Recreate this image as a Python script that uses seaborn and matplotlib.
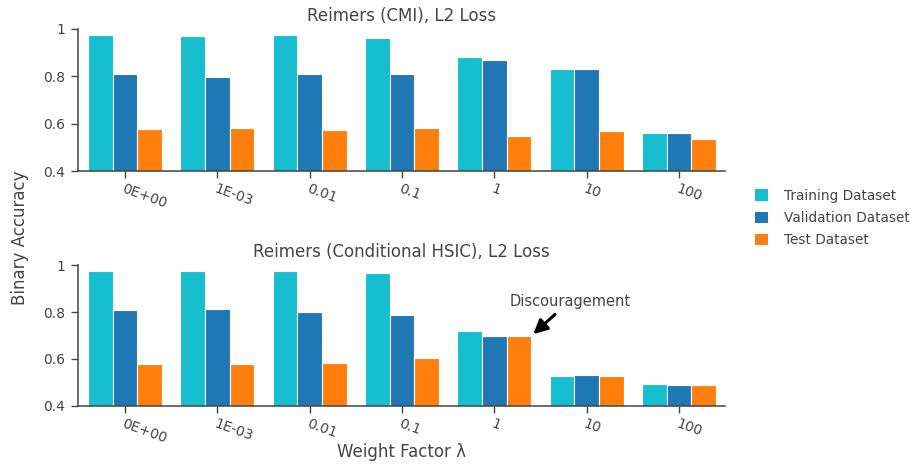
import matplotlib
matplotlib.use("Agg")
import matplotlib.pyplot as plt
from matplotlib.patches import Patch
import seaborn as sns
import pandas as pd

categories = ["0E+00", "1E-03", "0.01", "0.1", "1", "10", "100"]
datasets = ["Training Dataset", "Validation Dataset", "Test Dataset"]
colors = ["#17becf", "#1f77b4", "#ff7f0e"]

cmi_train = [0.976, 0.970, 0.975, 0.963, 0.880, 0.829, 0.561]
cmi_val = [0.809, 0.796, 0.809, 0.809, 0.868, 0.830, 0.562]
cmi_test = [0.577, 0.581, 0.573, 0.580, 0.546, 0.567, 0.534]

hsic_train = [0.976, 0.975, 0.976, 0.966, 0.718, 0.529, 0.495]
hsic_val = [0.808, 0.815, 0.802, 0.787, 0.698, 0.532, 0.491]
hsic_test = [0.578, 0.580, 0.581, 0.603, 0.698, 0.528, 0.490]

titles = ["Reimers (CMI), L2 Loss", "Reimers (Conditional HSIC), L2 Loss"]


def make_df(tr, va, te):
    rows = []
    for name, vals in zip(datasets, [tr, va, te]):
        for c, v in zip(categories, vals):
            rows.append({"Weight": c, "Dataset": name, "Accuracy": v})
    return pd.DataFrame(rows)


sns.set_theme(style="ticks")
plt.rcParams["font.family"] = ["DejaVu Sans"]
text_color = "#444444"
plt.rcParams["text.color"] = text_color
plt.rcParams["axes.labelcolor"] = text_color
plt.rcParams["xtick.color"] = text_color
plt.rcParams["ytick.color"] = text_color

fig = plt.figure(figsize=(9.12, 4.66), dpi=100)
ax1 = fig.add_axes([0.0855, 0.633, 0.7095, 0.305])
ax2 = fig.add_axes([0.0855, 0.129, 0.7095, 0.302])

dfs = [make_df(cmi_train, cmi_val, cmi_test), make_df(hsic_train, hsic_val, hsic_test)]

for ax, df, title in zip([ax1, ax2], dfs, titles):
    sns.barplot(data=df, x="Weight", y="Accuracy", hue="Dataset",
                order=categories, hue_order=datasets, palette=colors,
                saturation=1, width=0.8, edgecolor="white", linewidth=0.8,
                ax=ax, legend=False)
    ax.set_ylim(0.4, 1.0)
    ax.set_xlim(-0.51, 6.5)
    ax.set_yticks([0.4, 0.6, 0.8, 1.0])
    ax.set_yticklabels(["0.4", "0.6", "0.8", "1"])
    ax.set_xticks(range(len(categories)))
    ax.set_xticklabels(categories, rotation=-20, ha="left", va="top",
                       rotation_mode="anchor")
    ax.tick_params(axis="both", direction="out", length=5, width=1,
                   color=text_color, labelsize=10, pad=4)
    ax.tick_params(axis="x", pad=2.5)
    for s in ["top", "right"]:
        ax.spines[s].set_visible(False)
    for s in ["left", "bottom"]:
        ax.spines[s].set_color(text_color)
        ax.spines[s].set_linewidth(1.1)
    ax.set_xlabel("")
    ax.set_ylabel("")
    ax.set_title(title, fontsize=12, color=text_color, pad=6)

# Annotation on the bottom chart: Test bar at weight "1"
idx = categories.index("1")
tip_x = idx + 0.4
tip_y = hsic_test[idx]
ax2.annotate("", xy=(tip_x, tip_y), xytext=(tip_x + 0.28, tip_y + 0.10),
             arrowprops=dict(arrowstyle="-|>,head_length=0.7,head_width=0.35",
                             color="black", lw=2.2))
ax2.text(tip_x + 0.42, tip_y + 0.145, "Discouragement", fontsize=10.5,
         ha="center", va="center", color=text_color)

fig.text(0.022, 0.49, "Binary Accuracy", rotation=90, fontsize=12,
         ha="center", va="center", color=text_color)
fig.text(0.44, 0.03, "Weight Factor λ", fontsize=12, ha="center",
         va="center", color=text_color)

handles = [Patch(facecolor=c, edgecolor="none") for c in colors]
fig.legend(handles, datasets, loc="center left", bbox_to_anchor=(0.828, 0.532),
           frameon=False, fontsize=9.8, handlelength=0.95, handleheight=0.95,
           handletextpad=1.2, labelspacing=0.6, borderpad=0, borderaxespad=0)

fig.savefig("out.png", dpi=100)
